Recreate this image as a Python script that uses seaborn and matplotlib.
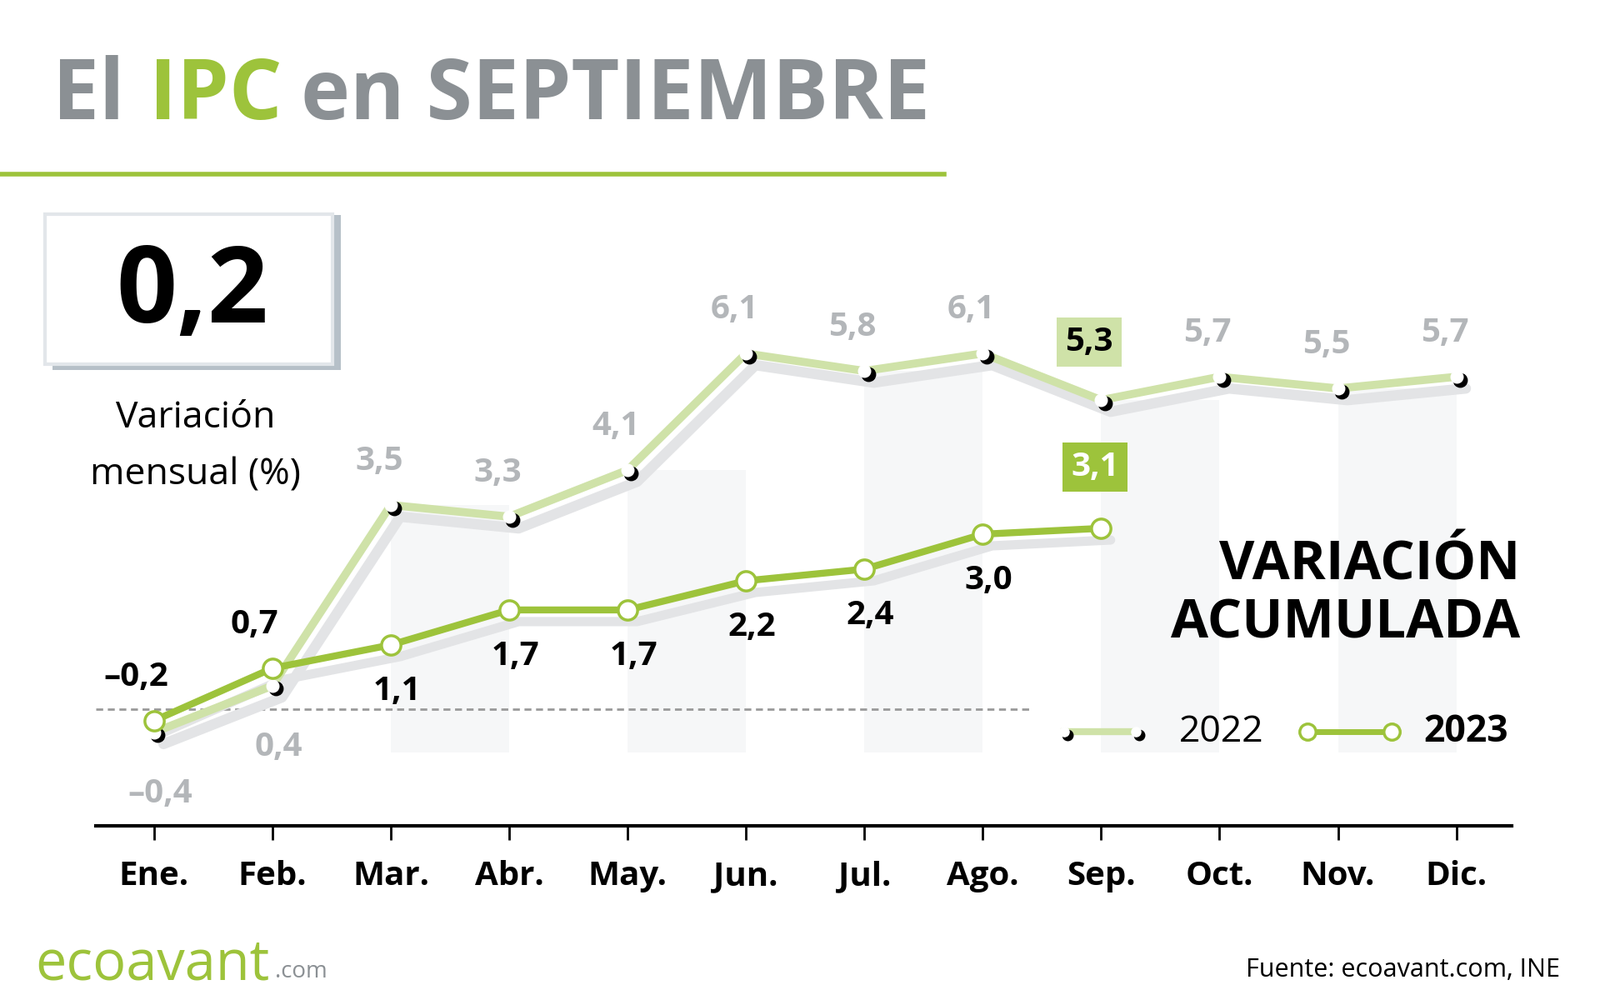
import matplotlib
matplotlib.use("Agg")
import matplotlib.pyplot as plt
import seaborn as sns
import pandas as pd
from matplotlib.patches import Rectangle

months = ["Ene.", "Feb.", "Mar.", "Abr.", "May.", "Jun.", "Jul.", "Ago.", "Sep.", "Oct.", "Nov.", "Dic."]
v2022 = [-0.4, 0.4, 3.5, 3.3, 4.1, 6.1, 5.8, 6.1, 5.3, 5.7, 5.5, 5.7]
v2023 = [-0.2, 0.7, 1.1, 1.7, 1.7, 2.2, 2.4, 3.0, 3.1]
lab2023_below = [False, False, True, True, True, True, True, True, False]

GREEN = "#9dc33b"
LGREEN = "#cfe2a8"
GRAY = "#8b9094"
FONT = "Open Sans"

df22 = pd.DataFrame({"x": range(12), "y": v2022})
df23 = pd.DataFrame({"x": range(len(v2023)), "y": v2023})

fig = plt.figure(figsize=(19.2, 12), dpi=100)
ax = fig.add_axes([0.06, 0.1744, 0.885, 0.612])
ax.set_xlim(-0.49, 11.47)
ax.set_ylim(-2.0, 8.5)

for i in [2, 4, 6, 8, 10]:
    ax.axvspan(i, i + 1, ymin=0.12, ymax=(v2022[i] + 2) / 10.5, color="#f6f7f8", zorder=0, lw=0)

ax.plot(df22.x + 0.08, df22.y - 0.2, color="#e3e4e6", lw=9, zorder=1, solid_capstyle="round")
ax.plot(df23.x + 0.08, df23.y - 0.2, color="#e3e4e6", lw=8, zorder=1, solid_capstyle="round")

sns.lineplot(data=df22, x="x", y="y", ax=ax, color=LGREEN, lw=7, zorder=2)
ax.scatter(df22.x + 0.03, df22.y - 0.05, s=140, color="black", zorder=3)
ax.scatter(df22.x, df22.y, s=110, color="white", zorder=4)
sns.lineplot(data=df23, x="x", y="y", ax=ax, color=GREEN, lw=6, zorder=5)
ax.scatter(df23.x, df23.y, s=280, color="white", edgecolor=GREEN, lw=2.5, zorder=6)

ax.axhline(0, xmin=0, xmax=0.66, color="#999999", ls=(0, (3, 2)), lw=2, zorder=0.5)

FS = 29
for i, v in enumerate(v2022):
    t = f"{v:.1f}".replace(".", ",").replace("-", "–")
    if i == 8:
        ax.text(i - 0.1, v + 1.0, t, ha="center", va="center", fontsize=FS, fontweight="bold",
                family=FONT, color="black", bbox=dict(boxstyle="square,pad=0.25", fc=LGREEN, ec="none"))
    elif v < 1:
        ax.text(i + 0.05, v - 1.05, t, ha="center", va="center", fontsize=FS, fontweight="bold", family=FONT, color="#b3b6b9")
    else:
        ax.text(i - 0.1, v + 0.75, t, ha="center", va="center", fontsize=FS, fontweight="bold", family=FONT, color="#b3b6b9")

for i, v in enumerate(v2023):
    t = f"{v:.1f}".replace(".", ",").replace("-", "–")
    if i == 8:
        ax.text(i - 0.05, v + 1.05, t, ha="center", va="center", fontsize=FS, fontweight="bold",
                family=FONT, color="white", bbox=dict(boxstyle="square,pad=0.25", fc=GREEN, ec="none"))
    elif lab2023_below[i]:
        ax.text(i + 0.05, v - 0.8, t, ha="center", va="center", fontsize=FS, fontweight="bold", family=FONT, color="black")
    else:
        ax.text(i - 0.15, v + 0.75, t, ha="center", va="center", fontsize=FS, fontweight="bold", family=FONT, color="black")

ax.set_xticks(range(12))
ax.set_xticklabels(months, fontsize=29, fontweight="bold", family=FONT)
ax.set_yticks([])
ax.set_xlabel(""); ax.set_ylabel("")
ax.tick_params(axis="x", length=12, width=2, pad=18, color="black")
for s in ["top", "right", "left"]:
    ax.spines[s].set_visible(False)
ax.spines["bottom"].set_linewidth(3)
ax.patch.set_alpha(0)

fig.text(0.033, 0.903, "El", fontsize=72, fontweight="bold", family=FONT, color=GRAY, va="center")
fig.text(0.093, 0.903, "IPC", fontsize=72, fontweight="bold", family=FONT, color=GREEN, va="center")
fig.text(0.188, 0.903, "en SEPTIEMBRE", fontsize=72, fontweight="bold", family=FONT, color=GRAY, va="center")
fig.add_artist(plt.Line2D([0, 0.59], [0.826, 0.826], color=GREEN, lw=4))

fig.add_artist(Rectangle((0.033, 0.63), 0.18, 0.155, facecolor="#b6c0c8", edgecolor="none"))
fig.add_artist(Rectangle((0.028, 0.636), 0.18, 0.15, facecolor="white", edgecolor="#e2e6ea", lw=3))
fig.text(0.12, 0.705, "0,2", fontsize=92, fontweight="bold", family=FONT, ha="center", va="center")
fig.text(0.122, 0.582, "Variación", fontsize=32, family=FONT, ha="center", va="center")
fig.text(0.122, 0.525, "mensual (%)", fontsize=32, family=FONT, ha="center", va="center")

fig.text(0.95, 0.405, "VARIACIÓN\nACUMULADA", fontsize=47, fontweight="bold", family=FONT,
         ha="right", va="center", linespacing=1.1)

fig.add_artist(plt.Line2D([0.665, 0.71], [0.268, 0.268], color=LGREEN, lw=6))
fig.add_artist(plt.Line2D([0.667, 0.712], [0.265, 0.265], color="black", marker="o", ms=9, lw=0))
fig.add_artist(plt.Line2D([0.665, 0.71], [0.268, 0.268], color="white", marker="o", ms=8, lw=0))
fig.text(0.737, 0.268, "2022", fontsize=32, family=FONT, va="center")
fig.add_artist(plt.Line2D([0.817, 0.87], [0.268, 0.268], color=GREEN, lw=5, marker="o", ms=14,
                          mfc="white", mec=GREEN, mew=2.5))
fig.text(0.89, 0.268, "2023", fontsize=32, fontweight="bold", family=FONT, va="center")

fig.text(0.022, 0.035, "ecoavant", fontsize=48, family=FONT, color=GREEN, va="center")
fig.text(0.172, 0.028, ".com", fontsize=20, family=FONT, color=GRAY, va="center")
fig.text(0.975, 0.03, "Fuente: ecoavant.com, INE", fontsize=22, family=FONT, ha="right", va="center")

fig.savefig("out.png", dpi=100, facecolor="white")
